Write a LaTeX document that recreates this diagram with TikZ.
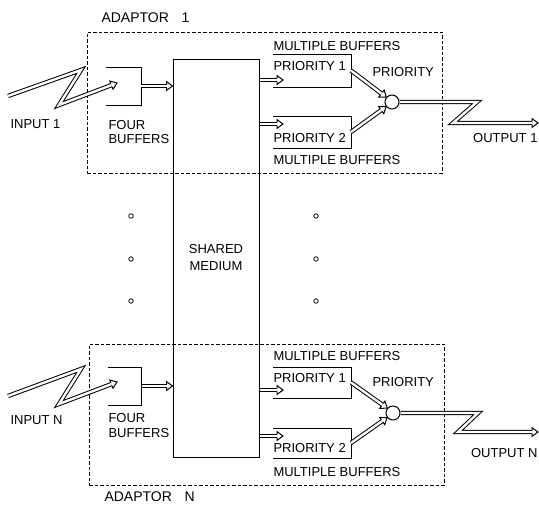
\documentclass[tikz,border=0pt]{standalone}
\usepackage{fontspec}
\setmainfont{Liberation Sans}
\usepackage{tikz}
\usetikzlibrary{calc}
\tikzset{
    pipe/.style={double, double distance=2.4pt, line width=1pt},
    bufbox/.style={inner sep=0pt, outer sep=0pt},
    adaptor/.style={draw, dash pattern=on 3.5pt off 2pt, line width=.8pt, inner sep=0pt},
    lbl/.style={font=\fontsize{13}{14.5}\selectfont, inner sep=0pt, anchor=west, align=left},
    title/.style={lbl, font=\fontsize{14}{16}\selectfont},
    dot/.style={draw, circle, inner sep=0pt, minimum size=4.5pt, line width=.8pt}}
% double line with an open head: #1 path up to the last bend, #2 last bend, #3 tip
\newcommand{\fatarrow}[3]{%
  \draw[pipe] #1 -- ($(#3)!6pt!(#2)$);
  \draw[line width=1pt] let \p1=($(#3)-(#2)$), \n1={atan2(\y1,\x1)} in
    [shift={(#3)}, rotate=\n1] (-6,1.7) -- (-6,4.4) -- (0,0) -- (-6,-4.4) -- (-6,-1.7);}

\begin{document}
\begin{tikzpicture}[x=1pt, y=-1pt, line width=1pt]
\useasboundingbox (0,0) rectangle (539,507);
% adaptors
\node[adaptor, minimum width=355pt, minimum height=141pt] (adp1) at (264.5,102.5) {};
\node[adaptor, minimum width=355pt, minimum height=141pt] (adpN) at (266.5,414.5) {};
\node[title] (adp1txt) at (101,18) {ADAPTOR\hspace{0.9em}1};
\node[title] (adpNtxt) at (104,497) {ADAPTOR\hspace{0.9em}N};
% shared medium
\node[draw, minimum width=86pt, minimum height=398pt, inner sep=0pt,
      font=\fontsize{13}{17}\selectfont, align=center] (medium) at (216,258) {SHARED\\MEDIUM};
% buffers, open on the left
\node[bufbox, minimum width=35pt, minimum height=38pt] (buf1) at (123.5,86) {};
\node[bufbox, minimum width=34pt, minimum height=38pt] (bufN) at (124.5,386) {};
\node[bufbox, minimum width=78pt, minimum height=33pt] (pa1) at (312,70.5) {};
\node[bufbox, minimum width=78pt, minimum height=32pt] (pb1) at (312,132) {};
\node[bufbox, minimum width=78pt, minimum height=31pt] (paN) at (312,382.5) {};
\node[bufbox, minimum width=78pt, minimum height=30pt] (pbN) at (312,443) {};
\foreach \b in {buf1,bufN,pa1,pb1,paN,pbN}
  \draw (\b.north west) -- (\b.north east) -- (\b.south east) -- (\b.south west);
% priority
\node[draw, circle, inner sep=0pt, minimum size=14pt] (mux1) at (392,102) {};
\node[draw, circle, inner sep=0pt, minimum size=14pt] (muxN) at (393,413) {};
% labels
\node[lbl] (in1) at (10,124) {INPUT 1};
\node[lbl, anchor=north west] (four1) at (108,119.5) {FOUR\\BUFFERS};
\node[lbl] (mb1a) at (273,46) {MULTIPLE BUFFERS};
\node[lbl] (pa1txt) at (273,66) {PRIORITY 1};
\node[lbl] (pb1txt) at (273,138) {PRIORITY 2};
\node[lbl] (mb1b) at (273,160) {MULTIPLE BUFFERS};
\node[lbl] (prio1) at (372,72) {PRIORITY};
\node[lbl, anchor=east] (out1) at (538,138) {OUTPUT 1};
\node[lbl] (inN) at (10,420) {INPUT N};
\node[lbl, anchor=north west] (fourN) at (108,413) {FOUR\\BUFFERS};
\node[lbl] (mbNa) at (273,356) {MULTIPLE BUFFERS};
\node[lbl] (paNtxt) at (273,378) {PRIORITY 1};
\node[lbl] (pbNtxt) at (273,448) {PRIORITY 2};
\node[lbl] (mbNb) at (273,472) {MULTIPLE BUFFERS};
\node[lbl] (prioN) at (372,382) {PRIORITY};
\node[lbl, anchor=east] (outN) at (538,453) {OUTPUT N};
% dots between the adaptors
\foreach \y in {216,259,301} {
  \node[dot] (dl\y) at (131,\y) {};
  \node[dot] (dr\y) at (316,\y) {};
}
% points of the arrows
\coordinate (in1a) at (8,96);
\coordinate (in1b) at (81,70);
\coordinate (in1c) at (59,105);
\coordinate (in1t) at (117,83);
\coordinate (inNa) at (8,396);
\coordinate (inNb) at (81,369);
\coordinate (inNc) at (59,404);
\coordinate (inNt) at (117,382);
\coordinate (m1) at (medium.west |- buf1.east);
\coordinate (mN) at (medium.west |- bufN.east);
\coordinate (pa1t) at (283,80);
\coordinate (pb1t) at (283,124);
\coordinate (paNt) at (283,390);
\coordinate (pbNt) at (283,436);
\coordinate (pa1s) at (medium.east |- pa1t);
\coordinate (pb1s) at (medium.east |- pb1t);
\coordinate (paNs) at (medium.east |- paNt);
\coordinate (pbNs) at (medium.east |- pbNt);
\coordinate (o1b) at (477,102);
\coordinate (o1c) at (453,123);
\coordinate (o1t) at (538,123);
\coordinate (oNb) at (478,413);
\coordinate (oNc) at (458,432);
\coordinate (oNt) at (538,432);
% inputs
\fatarrow{(in1a) -- (in1b) -- (in1c)}{in1c}{in1t}
\fatarrow{(inNa) -- (inNb) -- (inNc)}{inNc}{inNt}
\fatarrow{(buf1.east)}{buf1.east}{m1}
\fatarrow{(bufN.east)}{bufN.east}{mN}
% into the priority buffers
\fatarrow{(pa1s)}{pa1s}{pa1t}
\fatarrow{(pb1s)}{pb1s}{pb1t}
\fatarrow{(paNs)}{paNs}{paNt}
\fatarrow{(pbNs)}{pbNs}{pbNt}
\fatarrow{(pa1.east)}{pa1.east}{mux1.140}
\fatarrow{(pb1.east)}{pb1.east}{mux1.218}
\fatarrow{(paN.east)}{paN.east}{muxN.140}
\fatarrow{(pbN.east)}{pbN.east}{muxN.218}
% outputs
\fatarrow{(mux1.east) -- (o1b) -- (o1c)}{o1c}{o1t}
\fatarrow{(muxN.east) -- (oNb) -- (oNc)}{oNc}{oNt}
\end{tikzpicture}
\end{document}
